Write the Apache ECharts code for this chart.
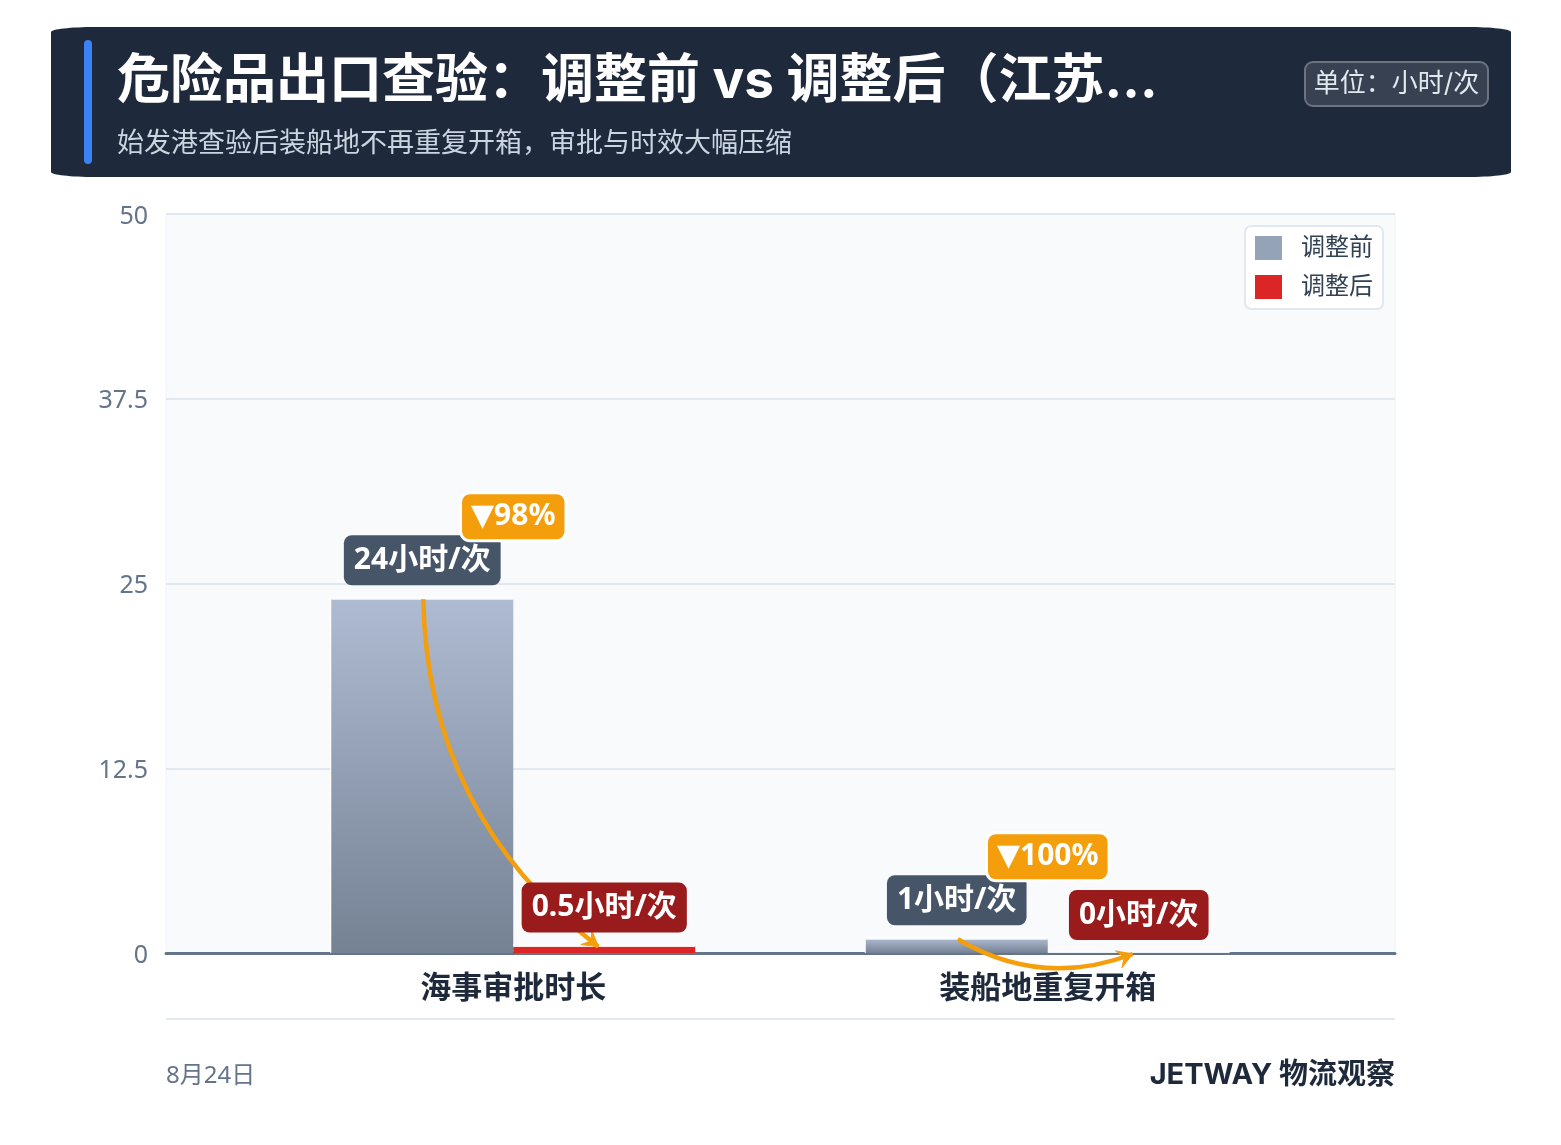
<!DOCTYPE html>
<html lang="zh-CN">
<head>
  <meta charset="UTF-8" />
  <title>危险品出口查验</title>
  <script src="https://cdn.jsdelivr.net/npm/echarts@6/dist/echarts.min.js"></script>
  <style>
    html, body { margin: 0; background: #fff; }
    #chart { width: 1561px; height: 1145px; }
  </style>
</head>
<body>
  <div id="chart"></div>
  <script>
    const categories = ['海事审批时长', '装船地重复开箱'];
    const beforeValues = [24, 1];
    const afterValues = [0.5, 0];
    const dropLabels = ['▼98%', '▼100%'];
    const yTicks = [0, 12.5, 25, 37.5, 50];
    const unit = '小时/次';

    const FONT = '"Noto Sans", "Noto Sans CJK SC", sans-serif';
    const HEAD_FONT = 'Inter, "Noto Sans CJK SC", sans-serif';
    const DROP_FONT = '"Noto Sans", "DejaVu Sans", "Noto Sans CJK SC", sans-serif';
    const BAR_W = 182;

    const chart = echarts.init(document.getElementById('chart'));

    function text(x, y, str, font, fill, align) {
      return {
        type: 'text', x: x, y: y, silent: true,
        style: { text: str, font: font, fill: fill, align: align || 'left', verticalAlign: 'middle' }
      };
    }

    function box(x, y, width, height, fill) {
      return { type: 'rect', silent: true, shape: { x: x, y: y, width: width, height: height }, style: { fill: fill } };
    }

    // header corners are flat ellipses, not round
    function corner(cx, cy) {
      return { type: 'ellipse', silent: true, shape: { cx: cx, cy: cy, rx: 44, ry: 5 }, style: { fill: '#1e293b' } };
    }

    // white cap on top of a bar, thin on an empty bar so the axis line still shows
    function cap(x, y, value) {
      return {
        type: 'rect',
        shape: { x: x, y: y - 1.5, width: BAR_W, height: value > 0 ? 3 : 1.5 },
        style: { fill: '#fff', opacity: 0.9 }
      };
    }

    // bar caps, then the orange arrow from the "before" bar top to the "after" bar top
    function renderArrow(params, api) {
      const i = api.value(0);
      const from = api.coord([i, api.value(1)]);
      const to = api.coord([i, api.value(2)]);
      const x1 = from[0] - BAR_W / 2 + 1, y1 = from[1] + 1;
      const x2 = to[0] + BAR_W / 2 - 6, y2 = to[1] + 1;
      const c = -0.24;
      const cx = (x1 + x2) / 2 + (y2 - y1) * c;
      const cy = (y1 + y2) / 2 - (x2 - x1) * c;
      const a = Math.atan2(y2 - cy, x2 - cx);
      const head = (d, w) => [x2 - Math.cos(a) * d - Math.sin(a) * w, y2 - Math.sin(a) * d + Math.cos(a) * w];
      return {
        type: 'group',
        children: [
          cap(from[0] - BAR_W, from[1], api.value(1)),
          cap(to[0], to[1], api.value(2)),
          {
            type: 'path',
            shape: { pathData: `M${x1} ${y1}Q${cx} ${cy} ${x2} ${y2}` },
            style: { fill: null, stroke: '#f59e0b', lineWidth: 4.5 }
          },
          {
            type: 'polygon',
            shape: { points: [[x2, y2], head(15, 9), head(9, 0), head(15, -9)] },
            style: { fill: '#f59e0b', stroke: '#f59e0b', lineWidth: 1 }
          }
        ]
      };
    }

    function badge(x, y, str, bg, font, padding, border) {
      return {
        type: 'text', x: x, y: y,
        style: {
          text: str, font: font, fill: '#fff',
          align: 'center', verticalAlign: 'bottom',
          backgroundColor: bg, padding: padding, borderRadius: 8,
          borderColor: border ? '#fff' : null, borderWidth: border ? 3 : 0
        }
      };
    }

    // value tags over each bar, then the percent tag on top
    function renderBadges(params, api) {
      const i = api.value(0);
      const before = api.value(1), after = api.value(2);
      const p1 = api.coord([i, before]);
      const p2 = api.coord([i, after]);
      return {
        type: 'group',
        children: [
          badge(p1[0] - BAR_W / 2, p1[1] - 13, before + unit, '#475569', 'bold 30px ' + FONT, [10, 10]),
          badge(p2[0] + BAR_W / 2, p2[1] - 13, after + unit, '#991b1b', 'bold 30px ' + FONT, [10, 10]),
          badge(p1[0], p1[1] - 59, dropLabels[i], '#f59e0b', 'bold 30px ' + DROP_FONT, [7.5, 9], true)
        ]
      };
    }

    const arrowData = categories.map((c, i) => [i, beforeValues[i], afterValues[i]]);

    chart.setOption({
      animation: false,
      backgroundColor: '#fff',
      textStyle: { fontFamily: FONT },
      grid: [
        { left: 166, right: 166, top: 214, height: 739, show: true, backgroundColor: '#f8fafc', borderColor: '#eef2f7', borderWidth: 1 },
        { left: 246, width: 1069, top: 214, height: 739 }
      ],
      xAxis: [
        {
          gridIndex: 0, type: 'category', data: categories,
          axisLabel: { show: false }, axisTick: { show: false },
          axisLine: { lineStyle: { color: '#64748b', width: 3 } }
        },
        {
          gridIndex: 1, type: 'category', data: categories,
          axisTick: { show: false }, axisLine: { show: false },
          axisLabel: { margin: 21, color: '#1e293b', fontSize: 31, fontWeight: 'bold', fontFamily: FONT }
        }
      ],
      yAxis: [
        {
          gridIndex: 0, type: 'value', min: yTicks[0], max: yTicks[yTicks.length - 1], interval: yTicks[1],
          axisLine: { show: false }, axisTick: { show: false },
          axisLabel: { margin: 18, color: '#64748b', fontSize: 25, fontFamily: FONT, verticalAlign: 'top', padding: [-10, 0, 0, 0] },
          splitLine: { lineStyle: { color: '#e2e8f0', width: 2 } }
        },
        {
          gridIndex: 1, type: 'value', min: yTicks[0], max: yTicks[yTicks.length - 1], interval: yTicks[1],
          axisLine: { show: false }, axisTick: { show: false }, axisLabel: { show: false }, splitLine: { show: false }
        }
      ],
      legend: {
        right: 178, top: 226, orient: 'vertical', padding: [10, 10, 10, 10],
        backgroundColor: '#fff', borderColor: '#e2e8f0', borderWidth: 2, borderRadius: 6,
        itemWidth: 27, itemHeight: 24, itemGap: 15, icon: 'rect',
        textStyle: { fontSize: 24, color: '#334155', fontFamily: FONT, padding: [0, 0, 0, 14] },
        data: [
          { name: '调整前', itemStyle: { color: '#94a3b8', shadowOffsetX: 0 } },
          { name: '调整后', itemStyle: { color: '#dc2626' } }
        ]
      },
      series: [
        {
          name: '调整前', type: 'bar', xAxisIndex: 1, yAxisIndex: 1, barWidth: BAR_W, barGap: 0, z: 2,
          data: beforeValues,
          itemStyle: {
            shadowColor: '#fff', shadowOffsetX: -1,
            color: new echarts.graphic.LinearGradient(0, 0, 0, 1, [
              { offset: 0, color: '#aebbd2' }, { offset: 1, color: '#758294' }
            ])
          }
        },
        {
          name: '调整后', type: 'bar', xAxisIndex: 1, yAxisIndex: 1, barWidth: BAR_W, barGap: 0, z: 2,
          data: afterValues,
          itemStyle: { color: '#dc2626' }
        },
        {
          type: 'custom', xAxisIndex: 1, yAxisIndex: 1, z: 3, silent: true,
          renderItem: renderArrow, data: arrowData
        },
        {
          type: 'custom', xAxisIndex: 1, yAxisIndex: 1, z: 4, silent: true,
          renderItem: renderBadges, data: arrowData
        }
      ],
      graphic: [
        corner(95, 32), corner(1467, 32), corner(95, 172), corner(1467, 172),
        box(95, 27, 1372, 150, '#1e293b'),
        box(51, 32, 1460, 140, '#1e293b'),
        {
          type: 'rect', silent: true,
          shape: { x: 84, y: 40, width: 8, height: 124, r: 4 },
          style: { fill: '#3b82f6' }
        },
        text(117, 82, '危险品出口查验：调整前 vs 调整后（江苏...', 'bold 53px ' + HEAD_FONT, '#fff'),
        text(117, 144, '始发港查验后装船地不再重复开箱，审批与时效大幅压缩', '27px ' + HEAD_FONT, '#cbd5e1'),
        {
          type: 'rect', silent: true,
          shape: { x: 1305, y: 62, width: 183, height: 44, r: 8 },
          style: { fill: '#374151', stroke: '#6b7280', lineWidth: 2 }
        },
        text(1396.5, 84, '单位：' + unit, '26px ' + HEAD_FONT, '#e2e8f0', 'center'),
        box(166, 1018, 1229, 2, '#e2e8f0'),
        text(166, 1076, '8月24日', '24px ' + FONT, '#64748b'),
        text(1395, 1075, 'JETWAY 物流观察', 'bold 29px ' + HEAD_FONT, '#1e293b', 'right')
      ]
    });
  </script>
</body>
</html>
